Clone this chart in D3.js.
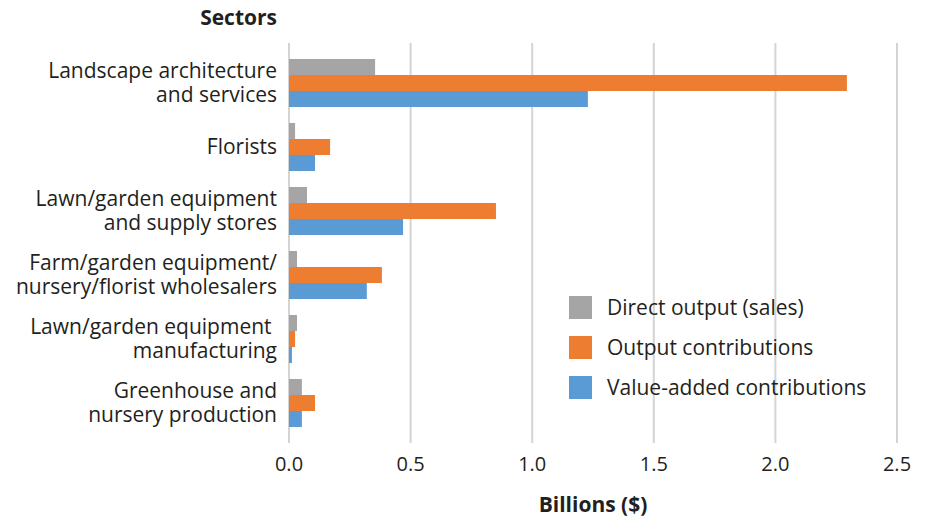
<!DOCTYPE html>
<html><head><meta charset="utf-8">
<script src="https://cdn.jsdelivr.net/npm/d3@7"></script>
<style>body{margin:0;background:#fff}</style>
</head><body>
<svg id="chart" width="925" height="519"></svg>
<script>
const categories = [
  ["Landscape architecture","and services"],
  ["Florists"],
  ["Lawn/garden equipment","and supply stores"],
  ["Farm/garden equipment/","nursery/florist wholesalers"],
  ["Lawn/garden equipment ","manufacturing"],
  ["Greenhouse and","nursery production"]
];
const seriesNames = ["Direct output (sales)","Output contributions","Value-added contributions"];
const directOutput = [0.354, 0.025, 0.074, 0.033, 0.033, 0.053];
const outputContrib = [2.294, 0.169, 0.851, 0.382, 0.025, 0.107];
const valueAdded = [1.229, 0.107, 0.469, 0.32, 0.012, 0.053];
const xTicks = [0, 0.5, 1.0, 1.5, 2.0, 2.5];
const colors = ["#a5a5a5","#ed7d31","#5b9bd5"];

(function(){
const font = "'Open Sans', sans-serif";
const textColor = "#231f20";
const fs = 21;
const svg = d3.select("#chart");
const pLeft = 289, pRight = 897, pTop = 43, pBottom = 443;

const x = d3.scaleLinear().domain([0, 2.5]).range([pLeft, pRight]);
const keys = categories.map((c,i)=>String(i));
const y = d3.scaleBand().domain(keys).range([pTop, pBottom]).paddingInner(0.25).paddingOuter(0.25);
const ySub = d3.scaleBand().domain([0,1,2]).range([0, y.bandwidth()]);

svg.append("g").selectAll("line").data(xTicks).join("line")
  .attr("x1", d=>x(d)).attr("x2", d=>x(d))
  .attr("y1", pTop).attr("y2", pBottom)
  .attr("stroke", "#d4d4d4").attr("stroke-width", 2);

const series = [directOutput, outputContrib, valueAdded];
series.forEach((vals, si) => {
  svg.append("g").selectAll("rect").data(vals).join("rect")
    .attr("x", x(0))
    .attr("y", (d,i)=> y(keys[i]) + ySub(si))
    .attr("width", d => x(d) - x(0))
    .attr("height", ySub.bandwidth())
    .attr("fill", colors[si]);
});

const labG = svg.append("g");
categories.forEach((lines, i) => {
  const cy = y(keys[i]) + y.bandwidth()/2;
  const lh = 24;
  const n = lines.length;
  const t = labG.append("text")
    .attr("text-anchor", "end")
    .attr("font-family", font).attr("font-size", fs)
    .attr("fill", textColor)
    .style("white-space","pre");
  lines.forEach((ln, j) => {
    t.append("tspan")
      .attr("x", 277)
      .attr("y", cy + (j - (n-1)/2)*lh)
      .attr("dy", "0.35em")
      .text(ln);
  });
});

svg.append("g").selectAll("text").data(xTicks).join("text")
  .attr("x", d=>x(d)).attr("y", 471)
  .attr("text-anchor","middle")
  .attr("font-family", font).attr("font-size", 20)
  .attr("fill", textColor)
  .text(d=>d3.format(".1f")(d));

svg.append("text").attr("x", 593).attr("y", 512).attr("text-anchor","middle")
  .attr("font-family", font).attr("font-size", fs).attr("font-weight","bold")
  .attr("fill", textColor).text("Billions ($)");
svg.append("text").attr("x", 277).attr("y", 25).attr("text-anchor","end")
  .attr("font-family", font).attr("font-size", fs).attr("font-weight","bold")
  .attr("fill", textColor).text("Sectors");

const leg = svg.append("g").attr("transform","translate(569,296)");
seriesNames.forEach((nm, i) => {
  leg.append("rect").attr("x",0).attr("y", i*40).attr("width",23).attr("height",23).attr("fill", colors[i]);
  leg.append("text").attr("x",38).attr("y", i*40+11.5).attr("dy","0.35em")
    .attr("font-family", font).attr("font-size", fs).attr("fill", textColor).text(nm);
});
})();
</script>
</body></html>
